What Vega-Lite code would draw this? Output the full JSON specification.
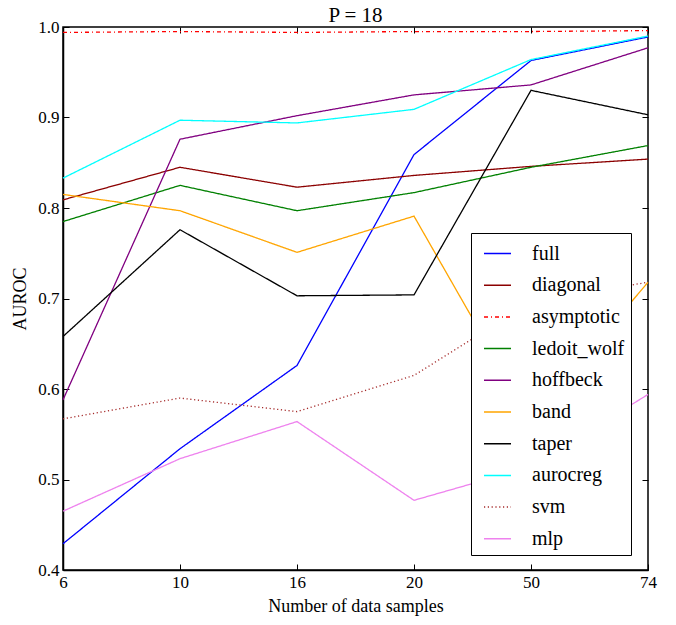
{
  "$schema": "https://vega.github.io/schema/vega-lite/v6.json",
  "width": 585,
  "height": 543,
  "autosize": "none",
  "padding": {"left": 63, "top": 27, "right": 28, "bottom": 55},
  "background": "white",
  "config": {
    "font": "Liberation Serif",
    "view": {"stroke": "black", "strokeWidth": 1.5},
    "axis": {
      "grid": false,
      "domainColor": "black",
      "domainWidth": 1.5,
      "tickColor": "black",
      "tickWidth": 1,
      "tickSize": -6,
      "labelColor": "black",
      "labelFont": "Liberation Serif",
      "labelFontSize": 17,
      "labelPadding": 10,
      "titleColor": "black",
      "titleFont": "Liberation Serif",
      "titleFontSize": 18,
      "titleFontWeight": "normal"
    }
  },
  "title": {"text": "P = 18", "font": "Liberation Serif", "fontSize": 21, "fontWeight": "normal", "color": "black", "offset": -8},
  "data": {
    "values": [
      {"n": 6, "method": "full", "auroc": 0.429},
      {"n": 10, "method": "full", "auroc": 0.534},
      {"n": 16, "method": "full", "auroc": 0.626},
      {"n": 20, "method": "full", "auroc": 0.859},
      {"n": 50, "method": "full", "auroc": 0.963},
      {"n": 74, "method": "full", "auroc": 0.989},
      {"n": 6, "method": "diagonal", "auroc": 0.809},
      {"n": 10, "method": "diagonal", "auroc": 0.845},
      {"n": 16, "method": "diagonal", "auroc": 0.823},
      {"n": 20, "method": "diagonal", "auroc": 0.836},
      {"n": 50, "method": "diagonal", "auroc": 0.846},
      {"n": 74, "method": "diagonal", "auroc": 0.854},
      {"n": 6, "method": "asymptotic", "auroc": 0.994},
      {"n": 10, "method": "asymptotic", "auroc": 0.995},
      {"n": 16, "method": "asymptotic", "auroc": 0.994},
      {"n": 20, "method": "asymptotic", "auroc": 0.995},
      {"n": 50, "method": "asymptotic", "auroc": 0.995},
      {"n": 74, "method": "asymptotic", "auroc": 0.996},
      {"n": 6, "method": "ledoit_wolf", "auroc": 0.785},
      {"n": 10, "method": "ledoit_wolf", "auroc": 0.825},
      {"n": 16, "method": "ledoit_wolf", "auroc": 0.797},
      {"n": 20, "method": "ledoit_wolf", "auroc": 0.817},
      {"n": 50, "method": "ledoit_wolf", "auroc": 0.845},
      {"n": 74, "method": "ledoit_wolf", "auroc": 0.869},
      {"n": 6, "method": "hoffbeck", "auroc": 0.588},
      {"n": 10, "method": "hoffbeck", "auroc": 0.876},
      {"n": 16, "method": "hoffbeck", "auroc": 0.902},
      {"n": 20, "method": "hoffbeck", "auroc": 0.925},
      {"n": 50, "method": "hoffbeck", "auroc": 0.936},
      {"n": 74, "method": "hoffbeck", "auroc": 0.977},
      {"n": 6, "method": "band", "auroc": 0.815},
      {"n": 10, "method": "band", "auroc": 0.797},
      {"n": 16, "method": "band", "auroc": 0.751},
      {"n": 20, "method": "band", "auroc": 0.791},
      {"n": 50, "method": "band", "auroc": 0.565},
      {"n": 74, "method": "band", "auroc": 0.718},
      {"n": 6, "method": "taper", "auroc": 0.658},
      {"n": 10, "method": "taper", "auroc": 0.776},
      {"n": 16, "method": "taper", "auroc": 0.703},
      {"n": 20, "method": "taper", "auroc": 0.704},
      {"n": 50, "method": "taper", "auroc": 0.930},
      {"n": 74, "method": "taper", "auroc": 0.903},
      {"n": 6, "method": "aurocreg", "auroc": 0.833},
      {"n": 10, "method": "aurocreg", "auroc": 0.897},
      {"n": 16, "method": "aurocreg", "auroc": 0.894},
      {"n": 20, "method": "aurocreg", "auroc": 0.909},
      {"n": 50, "method": "aurocreg", "auroc": 0.964},
      {"n": 74, "method": "aurocreg", "auroc": 0.990},
      {"n": 6, "method": "svm", "auroc": 0.567},
      {"n": 10, "method": "svm", "auroc": 0.590},
      {"n": 16, "method": "svm", "auroc": 0.575},
      {"n": 20, "method": "svm", "auroc": 0.615},
      {"n": 50, "method": "svm", "auroc": 0.696},
      {"n": 74, "method": "svm", "auroc": 0.718},
      {"n": 6, "method": "mlp", "auroc": 0.465},
      {"n": 10, "method": "mlp", "auroc": 0.523},
      {"n": 16, "method": "mlp", "auroc": 0.564},
      {"n": 20, "method": "mlp", "auroc": 0.477},
      {"n": 50, "method": "mlp", "auroc": 0.514},
      {"n": 74, "method": "mlp", "auroc": 0.594}
    ]
  },
  "layer": [
    {
      "mark": {"type": "line", "strokeWidth": 1.3},
      "encoding": {
        "x": {
          "field": "n", "type": "ordinal",
          "scale": {"type": "point", "padding": 0},
          "axis": {"orient": "bottom", "labelAngle": 0, "title": "Number of data samples", "titlePadding": 7}
        },
        "y": {
          "field": "auroc", "type": "quantitative",
          "scale": {"domain": [0.4, 1.0], "nice": false, "zero": false},
          "axis": {"orient": "left", "values": [0.4, 0.5, 0.6, 0.7, 0.8, 0.9, 1.0], "format": ".1f", "title": "AUROC", "titlePadding": 8}
        },
        "color": {
          "field": "method", "type": "nominal",
          "scale": {
            "domain": ["full", "diagonal", "asymptotic", "ledoit_wolf", "hoffbeck", "band", "taper", "aurocreg", "svm", "mlp"],
            "range": ["#0000ff", "#8b0000", "#ff0000", "#008000", "#800080", "#ffa500", "#000000", "#00ffff", "#a52a2a", "#ee82ee"]
          },
          "legend": {
            "orient": "none", "legendX": 408, "legendY": 206, "title": null,
            "fillColor": "white", "strokeColor": "black", "padding": 6,
            "symbolType": "stroke", "symbolSize": 729, "symbolStrokeWidth": 1.5, "symbolOffset": 6,
            "labelFont": "Liberation Serif", "labelFontSize": 20, "labelColor": "black",
            "labelOffset": 20, "rowPadding": 6.7
          }
        },
        "strokeDash": {
          "field": "method", "type": "nominal",
          "scale": {
            "domain": ["full", "diagonal", "asymptotic", "ledoit_wolf", "hoffbeck", "band", "taper", "aurocreg", "svm", "mlp"],
            "range": [[1, 0], [1, 0], [4, 3, 1, 3], [1, 0], [1, 0], [1, 0], [1, 0], [1, 0], [1.2, 2.6], [1, 0]]
          },
          "legend": {
            "orient": "none", "legendX": 408, "legendY": 206, "title": null,
            "fillColor": "white", "strokeColor": "black", "padding": 6,
            "symbolType": "stroke", "symbolSize": 729, "symbolStrokeWidth": 1.5, "symbolOffset": 6,
            "labelFont": "Liberation Serif", "labelFontSize": 20, "labelColor": "black",
            "labelOffset": 20, "rowPadding": 6.7
          }
        }
      }
    },
    {
      "mark": {"type": "line", "opacity": 0},
      "encoding": {
        "detail": {"field": "method", "type": "nominal"},
        "x": {
          "field": "n", "type": "ordinal",
          "scale": {"type": "point", "padding": 0},
          "axis": {"orient": "top", "labels": false, "title": null, "domain": false}
        },
        "y": {
          "field": "auroc", "type": "quantitative",
          "scale": {"domain": [0.4, 1.0], "nice": false, "zero": false},
          "axis": {"orient": "right", "values": [0.4, 0.5, 0.6, 0.7, 0.8, 0.9, 1.0], "labels": false, "title": null, "domain": false}
        }
      }
    }
  ],
  "resolve": {"axis": {"x": "independent", "y": "independent"}}
}
